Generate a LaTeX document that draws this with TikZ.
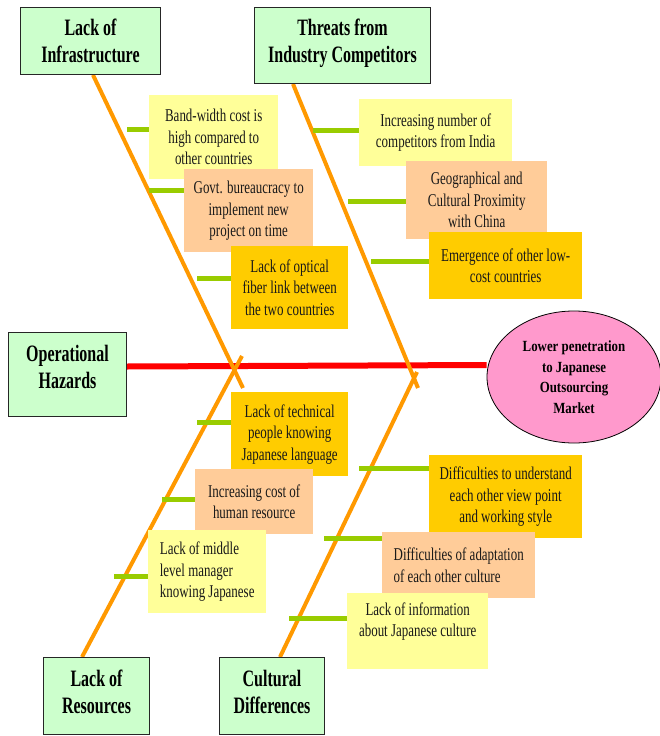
\documentclass[tikz,border=0pt]{standalone}
\usepackage{fontspec}
\setmainfont{Liberation Serif}[FakeStretch=0.72]
\newfontfamily\titlefont{Liberation Serif}[FakeStretch=0.68]
\newfontfamily\effectfont{Liberation Serif}[FakeStretch=0.83]
\usetikzlibrary{shapes.geometric}
\pgfdeclarelayer{bg}
\pgfsetlayers{bg,main}
\definecolor{spinecol}{HTML}{FF9900}
\definecolor{bonecol}{HTML}{99CC00}
\definecolor{headcol}{HTML}{FF0000}
\definecolor{yelcol}{HTML}{FFFF99}
\definecolor{peachcol}{HTML}{FFCC99}
\definecolor{goldcol}{HTML}{FFCC00}
\definecolor{catcol}{HTML}{CCFFCC}
\definecolor{effcol}{HTML}{FF99CC}
\begin{document}
\begin{tikzpicture}[x=1pt,y=-1pt,
  catbox/.style={draw=black!85, line width=1pt, fill=catcol, inner sep=0pt,
    anchor=north west},
  cattext/.style={inner sep=0pt, align=center, text=black,
    font=\titlefont\bfseries\fontsize{23.5}{27}\selectfont},
  causebox/.style={inner sep=0pt, anchor=north west, align=center,
    text=black!90, font=\fontsize{18}{21.5}\selectfont},
  spineline/.style={draw=spinecol, line width=4pt},
  boneline/.style={draw=bonecol, line width=5pt},
  headline/.style={draw=headcol, line width=6pt},
]
\useasboundingbox (0,0) rectangle (659,736);

% category boxes
\node[catbox, minimum width=140pt, minimum height=67pt] (infra) at (20,7) {};
\node[cattext] (infratext) at (infra.center) {Lack of\\Infrastructure};
\node[catbox, minimum width=176pt, minimum height=76pt] (threat) at (254,7) {};
\node[cattext] (threattext) at ([yshift=2pt]threat.center) {Threats from\\Industry Competitors};
\node[catbox, minimum width=118pt, minimum height=84pt] (hazard) at (8,332) {};
\node[cattext] (hazardtext) at ([yshift=8pt]hazard.center) {Operational\\Hazards};
\node[catbox, minimum width=106pt, minimum height=77pt] (resource) at (43,657) {};
\node[cattext] (resourcetext) at ([yshift=4pt]resource.center) {Lack of\\Resources};
\node[catbox, minimum width=105pt, minimum height=77pt] (culture) at (219,657) {};
\node[cattext] (culturetext) at ([yshift=4pt]culture.center) {Cultural\\Differences};

% effect
\node[ellipse, draw=black, line width=0.8pt, fill=effcol, minimum width=174pt, minimum height=132pt,
  inner sep=0pt, align=center, font=\effectfont\bfseries\fontsize{15.5}{20.5}\selectfont]
  (effect) at (574,377) {Lower penetration\\to Japanese\\Outsourcing\\Market};

% cause boxes
\node[causebox, fill=yelcol, minimum width=129pt, minimum height=84pt] (c1) at (149,95) {Band-width cost is\\high compared to\\other countries};
\node[causebox, fill=peachcol, minimum width=129pt, minimum height=83pt] (c2) at (184,169) {Govt. bureaucracy to\\implement new\\project on time};
\node[causebox, fill=goldcol, minimum width=117pt, minimum height=83pt] (c3) at (231,246) {Lack of optical\\fiber link between\\the two countries};
\node[causebox, fill=yelcol, minimum width=153pt, minimum height=67pt] (c4) at (359,99) {Increasing number of\\competitors from India};
\node[causebox, fill=peachcol, minimum width=141pt, minimum height=78pt] (c5) at (406,161) {Geographical and\\Cultural Proximity\\with China};
\node[causebox, fill=goldcol, minimum width=153pt, minimum height=67pt] (c6) at (429,232) {Emergence of other low-\\cost countries};
\node[causebox, fill=goldcol, minimum width=117pt, minimum height=84pt] (c7) at (231,392) {Lack of technical\\people knowing\\Japanese language};
\node[causebox, fill=peachcol, minimum width=118pt, minimum height=65pt] (c8) at (195,469) {Increasing cost of\\human resource};
\node[causebox, fill=yelcol, minimum width=118pt, minimum height=83pt, align=left] (c9) at (148,530) {Lack of middle\\level manager\\knowing Japanese};
\node[causebox, fill=goldcol, minimum width=153pt, minimum height=83pt] (c10) at (429,455) {Difficulties to understand\\each other view point\\and working style};
\node[causebox, fill=peachcol, minimum width=153pt, minimum height=66pt, align=left] (c11) at (382,532) {Difficulties of adaptation\\of each other culture};
\node[causebox, fill=yelcol, minimum width=141pt, minimum height=76pt] (c12) at (347,593) {Lack of information\\about Japanese culture\\[2pt]~};

% spine end points
\coordinate (e1) at (243,388);
\coordinate (e2) at (418,388);
\coordinate (e3) at (242,356);
\coordinate (e4) at (417,372);

% bone start points
\coordinate (b1) at (127,129);
\coordinate (b2) at (149,190);
\coordinate (b3) at (197,278);
\coordinate (b4) at (313,130);
\coordinate (b5) at (348,201);
\coordinate (b6) at (371,261);
\coordinate (b7) at (197,422);
\coordinate (b8) at (162,499);
\coordinate (b9) at (114,576);
\coordinate (b10) at (359,468);
\coordinate (b11) at (324,538);
\coordinate (b12) at (289,618);

\begin{pgfonlayer}{bg}
\draw[headline] ([yshift=8pt]hazard.east) -- ([yshift=12pt]effect.west);
\draw[spineline] ([xshift=73pt]infra.south west) -- (e1);
\draw[spineline] ([xshift=39pt]threat.south west) -- (e2);
\draw[spineline] ([xshift=39pt]resource.north west) -- (e3);
\draw[spineline] ([xshift=61pt]culture.north west) -- (e4);
\foreach \i in {1,...,12}{
  \draw[boneline] (b\i) -- (b\i -| c\i.west);
}
\end{pgfonlayer}
\end{tikzpicture}
\end{document}
